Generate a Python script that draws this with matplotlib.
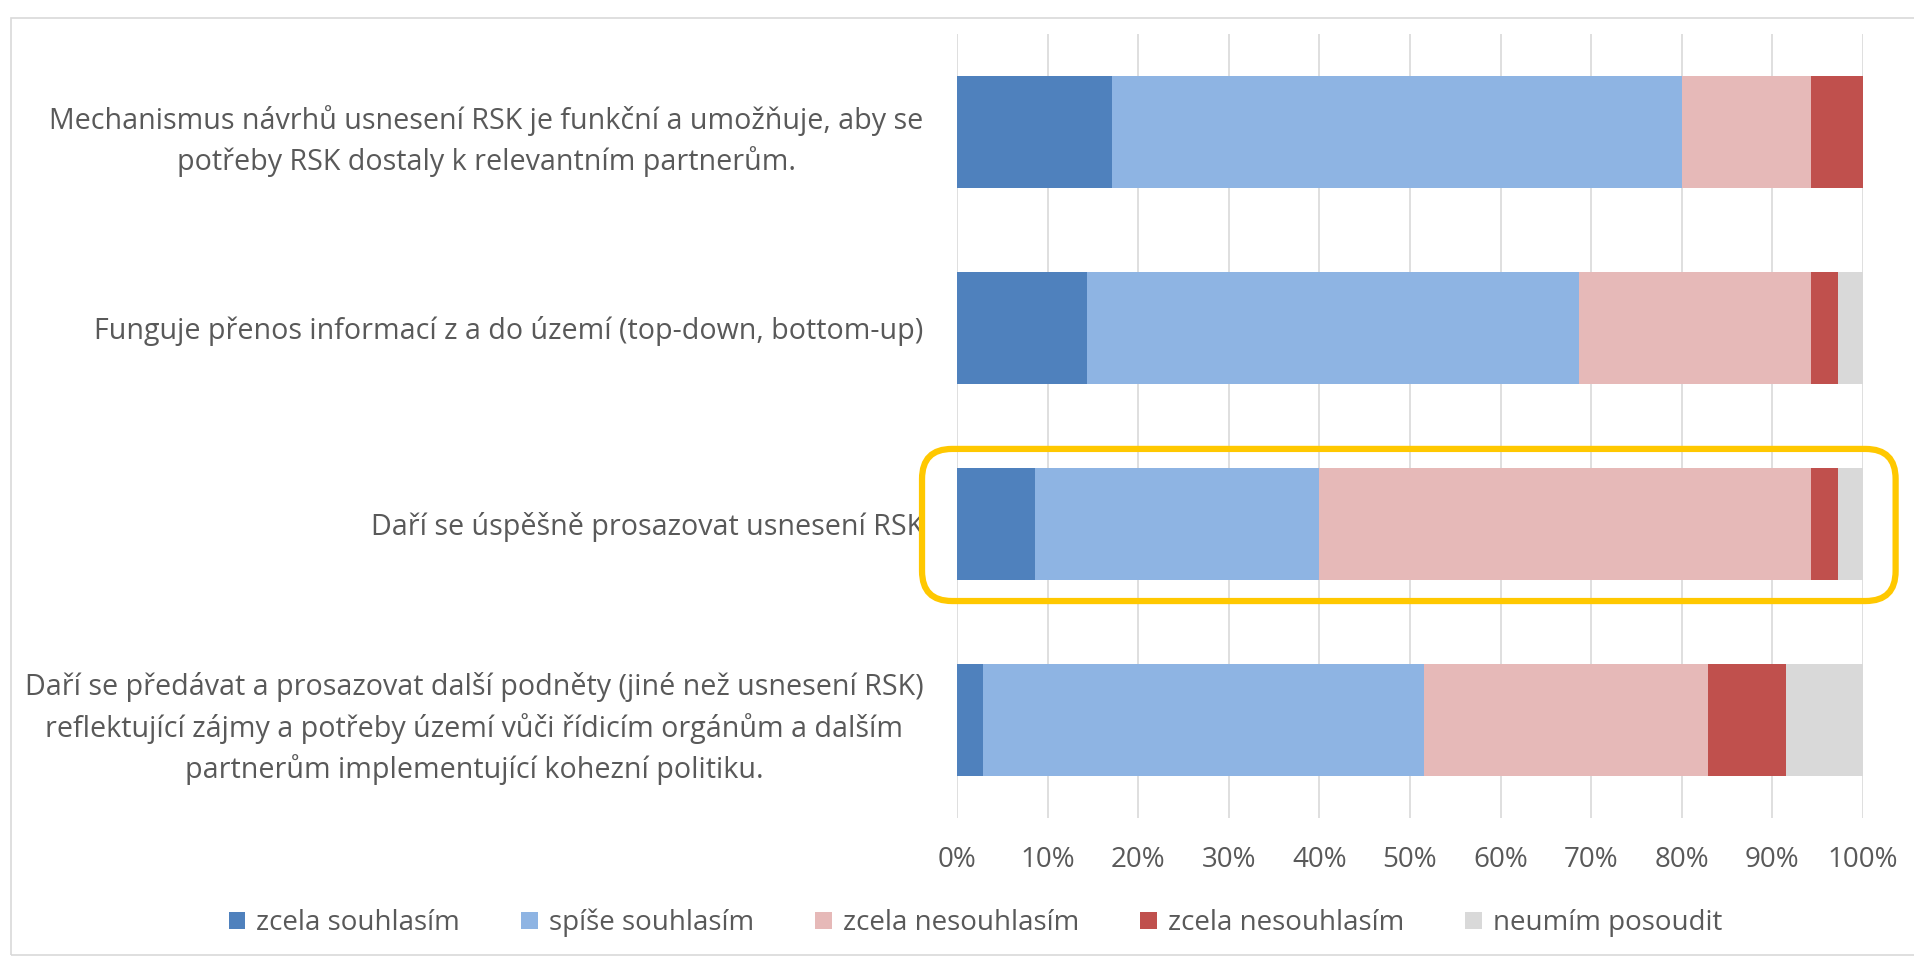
import matplotlib
matplotlib.use("Agg")
import matplotlib.pyplot as plt
import numpy as np
from matplotlib.patches import FancyBboxPatch, Rectangle, Patch
from matplotlib.transforms import IdentityTransform
from matplotlib.ticker import FuncFormatter

plt.rcParams['font.family'] = ['Open Sans', 'DejaVu Sans']

categories = [
    "Mechanismus návrhů usnesení RSK je funkční a umožňuje, aby se\npotřeby RSK dostaly k relevantním partnerům.",
    "Funguje přenos informací z a do území (top-down, bottom-up)",
    "Daří se úspěšně prosazovat usnesení RSK",
    "Daří se předávat a prosazovat další podněty (jiné než usnesení RSK)\nreflektující zájmy a potřeby území vůči řídicím orgánům a dalším\npartnerům implementující kohezní politiku.",
]
series_labels = ["zcela souhlasím", "spíše souhlasím", "zcela nesouhlasím",
                 "zcela nesouhlasím", "neumím posoudit"]
# shares in percent
zcela_souhlasim = [17.1, 14.3, 8.6, 2.9]
spise_souhlasim = [62.9, 54.3, 31.4, 48.6]
spise_nesouhlasim = [14.3, 25.7, 54.3, 31.4]
zcela_nesouhlasim = [5.7, 2.9, 2.9, 8.6]
neumim_posoudit = [0.0, 2.9, 2.9, 8.6]
series = [zcela_souhlasim, spise_souhlasim, spise_nesouhlasim,
          zcela_nesouhlasim, neumim_posoudit]
colors = ["#4F81BD", "#8EB4E3", "#E6B9B8", "#C0504D", "#D9D9D9"]
xticks = [0, 10, 20, 30, 40, 50, 60, 70, 80, 90, 100]
highlight_index = 2

W, H = 1914, 958
fig = plt.figure(figsize=(W / 100, H / 100), dpi=100)
ax = fig.add_axes([957 / W, 1 - 818 / H, (1863 - 957) / W, (818 - 34) / H])

y = np.arange(len(categories))
left = np.zeros(len(categories))
for vals, col, lab in zip(series, colors, series_labels):
    vals = np.array(vals)
    ax.barh(y, vals, left=left, height=0.57, color=col, label=lab, zorder=2)
    left += vals

ax.set_xlim(0, 100)
ax.set_ylim(len(categories) - 0.5, -0.5)
ax.set_xticks(xticks)
ax.xaxis.set_major_formatter(FuncFormatter(lambda v, p: f"{v:.0f}%"))
ax.set_yticks(y)
ax.set_yticklabels(categories, multialignment='center', linespacing=1.42)
ax.tick_params(axis='both', length=0, labelcolor='#595959')
ax.tick_params(axis='y', pad=24, labelsize=20.6)
ax.tick_params(axis='x', pad=20, labelsize=20)
ax.grid(axis='x', color='#D9D9D9', linewidth=1.2, zorder=0)
ax.set_axisbelow(True)
for s in ax.spines.values():
    s.set_visible(False)

handles = [Patch(facecolor=c, edgecolor='none') for c in colors]
fig.legend(handles, series_labels, loc='center', bbox_to_anchor=(0.5097, 1 - 923 / H),
           ncol=5, frameon=False, fontsize=20, labelcolor='#595959',
           handlelength=0.6, handleheight=0.6, handletextpad=0.4, columnspacing=2.2)

# highlight around third bar
fig.canvas.draw()
x0, y0 = ax.transData.transform((-3.86, highlight_index + 0.393))
x1, y1 = ax.transData.transform((103.6, highlight_index - 0.383))
hl = FancyBboxPatch((x0, y0), x1 - x0, y1 - y0,
                    boxstyle="round,pad=0,rounding_size=30",
                    transform=IdentityTransform(), facecolor='none',
                    edgecolor='#FFC800', linewidth=4.5, zorder=5)
fig.patches.append(hl)

# outer chart border
fig.patches.append(Rectangle((11 / W, 3 / H), 1.0, 1 - 21 / H, transform=fig.transFigure,
                             facecolor='none', edgecolor='#D9D9D9', linewidth=1.2))

fig.savefig("out.png", dpi=100)
